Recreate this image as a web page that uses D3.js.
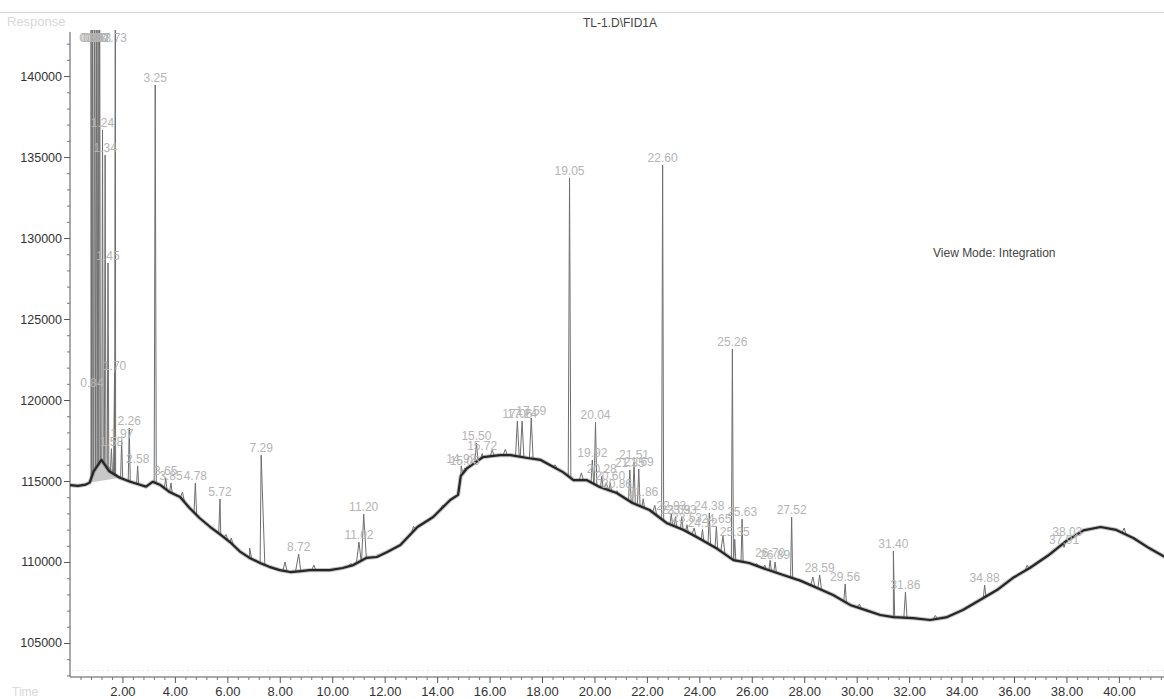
<!DOCTYPE html>
<html>
<head>
<meta charset="utf-8">
<script src="https://cdn.jsdelivr.net/npm/d3@7"></script>
<style>
  body { margin: 0; background: #fff; }
  svg text { font-family: "Liberation Sans", Arial, sans-serif; }
</style>
</head>
<body>
<svg id="chart" width="1164" height="699"></svg>
<script>
// Detector baseline: [retention time (min), response]
const baseline = [
  [0.0, 114750], [0.3, 114700], [0.6, 114780], [0.75, 114900], [0.9, 115600],
  [1.2, 116300], [1.5, 115600], [1.9, 115200], [2.3, 114950], [2.7, 114750],
  [2.9, 114650], [3.15, 114950], [3.45, 114750], [3.8, 114320], [4.2, 114010],
  [4.55, 113350], [4.95, 112700], [5.35, 112160], [5.75, 111670], [6.1, 111230],
  [6.5, 110620], [6.85, 110250], [7.25, 109940], [7.6, 109700], [8.0, 109500],
  [8.4, 109380], [8.8, 109440], [9.15, 109500], [9.55, 109500], [9.9, 109500],
  [10.4, 109630], [10.8, 109810], [11.3, 110250], [11.7, 110310], [12.1, 110620],
  [12.6, 111050], [13.25, 112160], [13.85, 112780], [14.5, 113830], [14.8, 114140],
  [14.9, 115300], [15.15, 115800], [15.75, 116480], [16.4, 116600], [16.8, 116600],
  [17.45, 116420], [17.95, 116300], [18.3, 115990], [18.8, 115550], [19.2, 115060],
  [19.7, 115060], [20.2, 114630], [20.85, 114260], [21.45, 113640], [22.1, 113210],
  [22.75, 112410], [23.4, 111980], [24.0, 111450], [24.7, 110800], [25.3, 110120],
  [25.9, 109940], [26.55, 109550], [27.2, 109200], [27.85, 108850], [28.5, 108390],
  [29.1, 107960], [29.75, 107350], [30.4, 107000], [30.9, 106730], [31.4, 106600],
  [32.15, 106540], [32.8, 106420], [33.45, 106600], [34.05, 107040], [34.7, 107650],
  [35.35, 108270], [35.95, 109010], [36.6, 109630], [37.3, 110400], [38.0, 111300],
  [38.65, 111950], [39.3, 112160], [39.9, 111980], [40.55, 111480], [41.15, 110860],
  [41.75, 110310]
];

// Integrated peaks: retention time, apex response, half width (min)
const peakTimes = [
  0.80, 0.86, 0.93, 1.00, 1.07, 1.13, 1.24, 1.34, 1.45, 1.58, 1.70, 1.73, 0.84, 1.97, 2.26, 2.58,
  3.25, 3.65, 3.85, 4.78, 5.72, 7.29, 8.72, 11.02, 11.20,
  14.92, 15.05, 15.50, 15.72, 17.06, 17.24, 17.59, 19.05, 19.92, 20.04, 20.28, 20.60, 20.86,
  21.35, 21.51, 21.69, 21.86, 22.60, 22.93, 23.09, 23.33, 23.53, 24.12, 24.38, 24.65, 25.26,
  25.35, 25.63, 26.70, 26.89, 27.52, 28.59, 29.56, 31.40, 31.86, 34.88, 37.91, 38.03
];
const peakResponses = [
  150000, 150000, 150000, 150000, 150000, 150000, 136670, 135120, 128460, 117000, 121670, 150000, 120600, 117500, 118270, 115930,
  139450, 115200, 114880, 114880, 113890, 116600, 110490, 111230, 112960,
  115930, 115800, 117350, 116700, 118700, 118700, 118890, 133700, 116300, 118640, 115300, 114900, 114400,
  115680, 116170, 115740, 113900, 134500, 113000, 112800, 112800, 112300, 112000, 113020, 112200, 123150,
  111400, 112650, 110100, 110000, 112780, 109200, 108640, 110680, 108150, 108580, 110900, 111400
];
const peakHalfWidths = [
  0.03, 0.03, 0.03, 0.03, 0.03, 0.03, 0.03, 0.03, 0.03, 0.04, 0.04, 0.03, 0.04, 0.04, 0.04, 0.04,
  0.04, 0.05, 0.05, 0.05, 0.05, 0.14, 0.12, 0.1, 0.1,
  0.06, 0.06, 0.06, 0.06, 0.07, 0.07, 0.07, 0.05, 0.05, 0.05, 0.05, 0.05, 0.05,
  0.05, 0.05, 0.05, 0.05, 0.04, 0.05, 0.05, 0.05, 0.05, 0.05, 0.05, 0.05, 0.04,
  0.04, 0.04, 0.05, 0.05, 0.04, 0.07, 0.05, 0.05, 0.06, 0.05, 0.05, 0.05
];

// Small unlabelled bumps on the baseline: [time, apex response]
const minorPeaks = [
  [4.29, 114320], [5.95, 111700], [6.15, 111480], [6.85, 110860], [8.2, 110000], [9.3, 109810],
  [10.7, 109900], [13.1, 112200], [14.2, 113500], [16.1, 116900], [16.6, 116950], [18.5, 116000],
  [19.5, 115500], [20.45, 114900], [22.3, 113500], [23.8, 112100], [24.9, 111600], [26.2, 109900],
  [26.5, 109800], [28.33, 109070], [30.1, 107400], [33.0, 106700], [36.5, 109800], [40.2, 112100]
];

const xTicks = d3.range(2, 41, 2);
const yTicks = d3.range(105000, 140001, 5000);

const W = 1164, H = 699;
const svg = d3.select("#chart");

const x = d3.scaleLinear().domain([0, 41.72]).range([70, 1164]);
const y = d3.scaleLinear().domain([102900, 142720]).range([677, 32]);

// header rule and captions
svg.append("line").attr("x1", 0).attr("x2", W).attr("y1", 12.5).attr("y2", 12.5)
  .attr("stroke", "#d4d4d4").attr("stroke-width", 1);
svg.append("text").attr("x", 620).attr("y", 27).attr("text-anchor", "middle")
  .attr("font-size", 12).attr("fill", "#444").text("TL-1.D\\FID1A");
svg.append("text").attr("x", 7).attr("y", 26).attr("font-size", 13)
  .attr("fill", "#d8d8d8").text("Response");
svg.append("text").attr("x", 12).attr("y", 696).attr("font-size", 12)
  .attr("fill", "#d8d8d8").text("Time");
svg.append("text").attr("x", 933).attr("y", 257).attr("font-size", 12)
  .attr("fill", "#444").text("View Mode: Integration");

// axes
const yAxis = svg.append("g").attr("transform", "translate(70,0)")
  .call(d3.axisLeft(y).tickValues(yTicks).tickSize(6).tickPadding(2).tickFormat(d3.format("d")));
yAxis.select(".domain").attr("d", `M0,${y.range()[1]}V677`).attr("stroke", "#555");
yAxis.selectAll(".tick line").attr("stroke", "#555");
yAxis.selectAll(".tick text").attr("font-size", 12.5).attr("fill", "#333")
  .attr("font-family", "Liberation Sans, Arial, sans-serif");
svg.append("g").attr("transform", "translate(70,0)")
  .call(d3.axisLeft(y).tickValues(d3.range(103000, 142001, 1000).filter(v => v % 5000 !== 0)).tickSize(3).tickFormat(""))
  .call(g => g.select(".domain").remove())
  .selectAll("line").attr("stroke", "#777");

const xAxis = svg.append("g").attr("transform", "translate(0,677)")
  .call(d3.axisBottom(x).tickValues(xTicks).tickSize(6).tickPadding(4).tickFormat(d3.format(".2f")));
xAxis.select(".domain").attr("d", `M70,0H${W}`).attr("stroke", "#555");
xAxis.selectAll(".tick line").attr("stroke", "#555");
xAxis.selectAll(".tick text").attr("font-size", 13).attr("fill", "#333")
  .attr("font-family", "Liberation Sans, Arial, sans-serif");
svg.append("g").attr("transform", "translate(0,677)")
  .call(d3.axisBottom(x).tickValues(d3.range(0.4, 41.7, 0.4).filter(v => Math.abs(v / 2 - Math.round(v / 2)) > 0.01)).tickSize(3).tickFormat(""))
  .call(g => g.select(".domain").remove())
  .selectAll("line").attr("stroke", "#777");

// faint dotted guide above the time axis
svg.append("line").attr("x1", 72).attr("x2", W).attr("y1", 670.5).attr("y2", 670.5)
  .attr("stroke", "#e6e6e6").attr("stroke-dasharray", "2,3");

// plot clip
svg.append("clipPath").attr("id", "plot-clip").append("rect")
  .attr("x", 70).attr("y", 30).attr("width", W - 70).attr("height", 647);

// response on the baseline at time t (for seating peaks on the trace)
const bis = d3.bisector(d => d[0]).left;
function baseAt(t) {
  const i = Math.max(1, Math.min(baseline.length - 1, bis(baseline, t)));
  const a = baseline[i - 1], b = baseline[i];
  return a[1] + (b[1] - a[1]) * (t - a[0]) / (b[0] - a[0]);
}

// assemble the signal trace
const pts = baseline.map(d => ({ t: d[0], v: d[1] }));
const peakSegs = peakTimes.map((t, i) => ({ t, v: peakResponses[i], w: peakHalfWidths[i] }));
const minorSegs = minorPeaks.map(d => ({ t: d[0], v: d[1], w: 0.08 }));
[...peakSegs, ...minorSegs].forEach(p => {
  pts.push({ t: p.t - p.w, v: baseAt(p.t - p.w) });
  pts.push({ t: p.t, v: p.v });
  pts.push({ t: p.t + p.w, v: baseAt(p.t + p.w) });
});
pts.sort((a, b) => a.t - b.t);

const line = d3.line().x(d => x(d.t)).y(d => y(d.v));
const plot = svg.append("g").attr("clip-path", "url(#plot-clip)");

// integration baseline under the early cluster
plot.append("path")
  .attr("d", line([{ t: 0.72, v: 114900 }, { t: 1.2, v: 116300 }, { t: 1.9, v: 115200 }]))
  .attr("fill", "#c8c8c8").attr("stroke", "#999").attr("stroke-width", 0.8);

const basePts = baseline.map(d => ({ t: d[0], v: d[1] }));
// soft halo gives the recorded baseline its grainy width
plot.append("path").attr("d", line(basePts))
  .attr("fill", "none").attr("stroke", "#555").attr("stroke-opacity", 0.35)
  .attr("stroke-width", 4.2).attr("stroke-linejoin", "round");
plot.append("path").attr("d", line(pts))
  .attr("fill", "none").attr("stroke", "#6e6e6e").attr("stroke-width", 1)
  .attr("stroke-linejoin", "round");
plot.append("path").attr("d", line(basePts))
  .attr("fill", "none").attr("stroke", "#262626").attr("stroke-width", 2.2)
  .attr("stroke-linejoin", "round");

// peak labels
const plotTop = y.range()[1];
svg.append("g").selectAll("text").data(peakSegs).join("text")
  .attr("x", d => x(d.t))
  .attr("y", d => Math.max(plotTop + 10, y(d.v) - 3))
  .attr("text-anchor", "middle")
  .attr("font-size", 12)
  .attr("fill", "#b4b4b4")
  .text(d => d3.format(".2f")(d.t));
</script>
</body>
</html>
